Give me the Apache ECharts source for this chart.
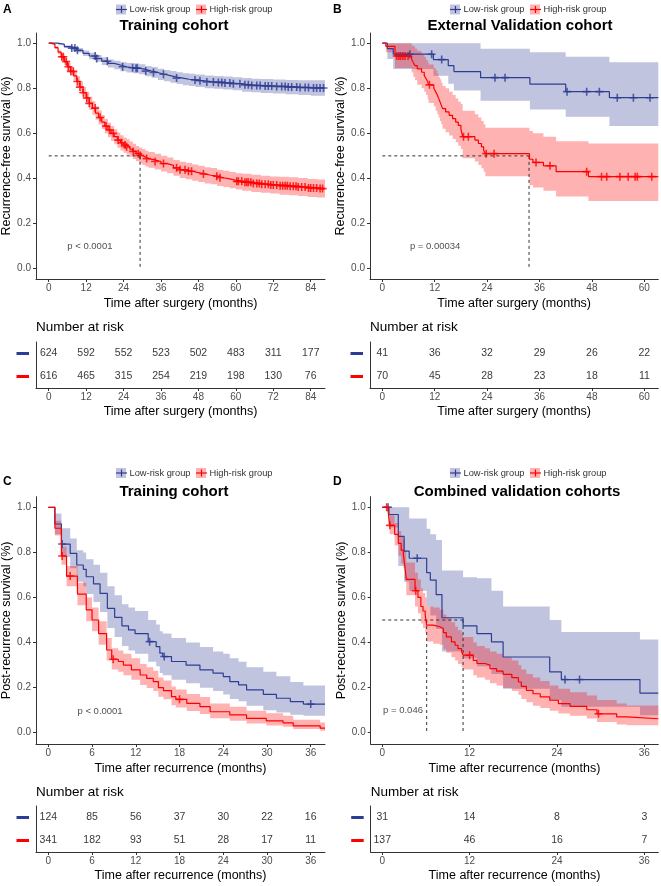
<!DOCTYPE html>
<html><head><meta charset="utf-8">
<script src="https://cdn.jsdelivr.net/npm/echarts@6/dist/echarts.min.js"></script>
<style>html,body{margin:0;padding:0;background:#fff}#c{width:661px;height:886px}</style>
</head><body><div id="c"></div>
<script>
// ---------------- DATA ----------------
const groupLabels = ['Low-risk group', 'High-risk group'];
const titles = ['Training cohort', 'External Validation cohort', 'Training cohort', 'Combined validation cohorts'];
const panelLetters = ['A', 'B', 'C', 'D'];
const xNames = ['Time after surgery (months)', 'Time after surgery (months)', 'Time after recurrence (months)', 'Time after recurrence (months)'];
const yNames = ['Recurrence-free survival (%)', 'Recurrence-free survival (%)', 'Post-recurrence survival (%)', 'Post-recurrence survival (%)'];
const pTexts = ['p < 0.0001', 'p = 0.00034', 'p < 0.0001', 'p = 0.046'];
const yTicks = [0, 0.2, 0.4, 0.6, 0.8, 1.0];

// Panel A
const A_ticks = [0, 12, 24, 36, 48, 60, 72, 84];
const A_low_t = [0,3,5,7,9,11,13,15,17,19,21,23,25,27,29,31,33,35,37,39,41,43,45,47,50,53,56,59,62,65,68,72,76,80,84,88.6];
const A_low_s = [1,0.995,0.985,0.978,0.968,0.955,0.943,0.932,0.92,0.91,0.903,0.895,0.891,0.889,0.884,0.876,0.87,0.862,0.856,0.85,0.845,0.84,0.837,0.833,0.828,0.826,0.823,0.82,0.815,0.812,0.81,0.808,0.805,0.803,0.801,0.801];
const A_low_lo = [1,0.991,0.979,0.970,0.958,0.943,0.929,0.917,0.903,0.892,0.884,0.875,0.870,0.867,0.862,0.853,0.846,0.837,0.831,0.824,0.819,0.813,0.810,0.805,0.800,0.798,0.794,0.791,0.785,0.782,0.779,0.777,0.773,0.770,0.767,0.767];
const A_low_hi = [1,0.999,0.991,0.986,0.978,0.967,0.957,0.947,0.937,0.928,0.922,0.915,0.912,0.911,0.906,0.899,0.894,0.887,0.881,0.876,0.871,0.867,0.864,0.861,0.856,0.854,0.852,0.849,0.845,0.842,0.841,0.839,0.837,0.836,0.835,0.835];
const A_low_cens = [7.4,8.4,9.2,14.9,15.4,18.8,23.7,26.9,28,28.4,31.1,33.6,36.8,41,46.9,48.5,50.7,52.8,54.4,55.5,56.5,58.1,59.2,61.3,62.9,64,65.1,66.7,67.8,69.4,70.4,71.5,73.1,74.7,75.8,76.8,77.9,79.5,80.6,82.2,83.3,84.9,85.9,87,88.1];
const A_high_t = [0,1,2,3,4,5,6,7,8,9,10,11,12,13,14,15,16,17,18,19,20,21,22,23,24,25,26,27,28,29,30,31,32,34,36,38,40,42,44,46,48,50,52,54,56,58,60,62,65,68,71,74,77,80,83,86,88.6];
const A_high_s = [1,0.995,0.98,0.96,0.94,0.918,0.895,0.875,0.855,0.83,0.805,0.78,0.757,0.733,0.712,0.69,0.67,0.65,0.632,0.615,0.6,0.585,0.57,0.558,0.548,0.54,0.53,0.52,0.51,0.502,0.495,0.488,0.482,0.475,0.466,0.458,0.447,0.438,0.432,0.426,0.42,0.414,0.41,0.403,0.398,0.392,0.387,0.383,0.378,0.374,0.371,0.368,0.365,0.362,0.358,0.355,0.355];
const A_high_lo = [1,0.992,0.974,0.951,0.928,0.903,0.878,0.856,0.834,0.807,0.780,0.753,0.729,0.704,0.682,0.660,0.639,0.619,0.600,0.583,0.567,0.552,0.536,0.524,0.514,0.506,0.496,0.486,0.476,0.467,0.460,0.453,0.447,0.440,0.431,0.423,0.412,0.402,0.396,0.390,0.384,0.378,0.374,0.367,0.362,0.356,0.351,0.345,0.340,0.336,0.333,0.328,0.325,0.322,0.318,0.315,0.315];
const A_high_hi = [1,0.998,0.986,0.969,0.952,0.933,0.912,0.894,0.876,0.853,0.830,0.807,0.785,0.762,0.742,0.720,0.701,0.681,0.664,0.647,0.633,0.618,0.604,0.592,0.582,0.574,0.564,0.554,0.544,0.537,0.530,0.523,0.517,0.510,0.501,0.493,0.482,0.474,0.468,0.462,0.456,0.450,0.446,0.439,0.434,0.428,0.423,0.421,0.416,0.412,0.409,0.408,0.405,0.402,0.398,0.395,0.395];
const A_high_cens = [4.2,4.7,5.6,6.3,7.1,7.9,9.2,10,11.1,12.2,13,14.9,16.5,18.4,19.5,20.7,22.3,23.4,24.5,25,27.1,28.7,29.3,31.4,34.1,36.8,41,42.1,43.7,44.8,45.8,49.6,53.9,54.9,60.3,60.8,61.9,62.9,63.5,64,64.8,65.6,66.7,67.5,68.3,69.4,70.4,71.2,72,73.1,74.2,75,75.8,76.5,77.4,78.4,79.3,80,81.1,82.2,83.3,84,84.9,85.9,87,87.8];
const A_medians = [29.3];
const A_risk_low = [624, 592, 552, 523, 502, 483, 311, 177];
const A_risk_high = [616, 465, 315, 254, 219, 198, 130, 76];

// Panel B
const B_ticks = [0, 12, 24, 36, 48, 60];
const B_low_t = [0,1.15,2.5,11.7,15.1,16.4,22.5,33.8,42,52,63.2];
const B_low_s = [1,0.976,0.951,0.927,0.9,0.874,0.847,0.818,0.785,0.758,0.758];
const B_low_lo = [1,0.93,0.885,0.855,0.82,0.79,0.745,0.706,0.674,0.633,0.633];
const B_low_hi = [1,1,1,1,1,1,0.975,0.96,0.94,0.915,0.915];
const B_low_cens = [6.3,11.3,13.6,25.8,28.1,42.3,46.8,49.7,53.8,57.5,61.3];
const B_high_t = [0,0.8,2.9,6.7,7.1,7.5,8.0,9.0,9.6,10.0,10.4,10.6,11.8,12.2,12.6,12.9,13.2,13.5,13.8,14.5,15.3,16.1,16.8,17.4,18.0,18.4,21.2,22.0,22.7,23.2,23.6,33.7,34.5,36.9,39.8,47.2,63.2];
const B_high_s = [1,0.986,0.943,0.929,0.914,0.9,0.886,0.871,0.857,0.843,0.829,0.815,0.8,0.785,0.77,0.755,0.74,0.725,0.71,0.695,0.68,0.665,0.65,0.635,0.62,0.585,0.57,0.555,0.54,0.525,0.51,0.485,0.471,0.456,0.43,0.408,0.408];
const B_high_lo = [1,0.96,0.89,0.87,0.85,0.835,0.815,0.8,0.785,0.77,0.75,0.735,0.72,0.7,0.685,0.67,0.655,0.64,0.62,0.605,0.59,0.575,0.56,0.545,0.53,0.49,0.475,0.46,0.445,0.43,0.41,0.37,0.36,0.345,0.32,0.3,0.3];
const B_high_hi = [1,1,1,0.99,0.985,0.975,0.965,0.95,0.94,0.925,0.915,0.905,0.89,0.88,0.865,0.85,0.84,0.825,0.81,0.8,0.785,0.77,0.755,0.74,0.73,0.7,0.685,0.67,0.655,0.64,0.625,0.61,0.6,0.585,0.565,0.555,0.555];
const B_high_cens = [3.3,3.8,4.2,4.7,5.2,5.9,10.8,18.6,19.7,23.8,25.6,35.2,38.4,46.8,50.2,51.4,54.4,56.3,57.9,58.4,61.7];
const B_medians = [33.6];
const B_risk_low = [41, 36, 32, 29, 26, 22];
const B_risk_high = [70, 45, 28, 23, 18, 11];

// Panel C
const C_ticks = [0, 6, 12, 18, 24, 30, 36];
const C_low_t = [0,0.9,1.8,3.0,3.9,4.8,5.2,6.2,7.1,8.1,9.1,10.1,11.0,11.9,13.7,14.8,15.3,15.7,16.9,18.9,20.8,22.6,24.0,24.9,26.1,27.2,29.5,31.3,33.2,35.0,37.96];
const C_low_s = [1,0.926,0.837,0.796,0.744,0.725,0.692,0.66,0.618,0.552,0.512,0.474,0.456,0.44,0.404,0.382,0.353,0.338,0.316,0.3,0.279,0.264,0.249,0.227,0.212,0.19,0.17,0.153,0.138,0.127,0.127];
const C_low_lo = [1,0.88,0.78,0.73,0.67,0.65,0.615,0.58,0.535,0.465,0.425,0.385,0.365,0.35,0.315,0.295,0.265,0.255,0.235,0.22,0.2,0.185,0.17,0.15,0.14,0.12,0.1,0.09,0.08,0.075,0.075];
const C_low_hi = [1,0.973,0.907,0.862,0.81,0.8,0.77,0.745,0.71,0.65,0.61,0.57,0.555,0.54,0.5,0.48,0.45,0.44,0.42,0.4,0.38,0.36,0.35,0.33,0.315,0.29,0.27,0.25,0.225,0.21,0.21];
const C_low_cens = [1.9, 13.9, 15.9, 36.0];
const C_high_t = [0,0.9,1.8,2.5,4.0,5.2,6.0,6.9,8.0,8.7,9.6,10.3,11.4,12.6,13.5,14.4,15.1,15.8,16.9,17.5,19.0,20.8,22.2,24.9,27.2,29.9,32.2,33.6,37.3,37.96];
const C_high_s = [1,0.907,0.784,0.695,0.615,0.545,0.5,0.44,0.367,0.326,0.316,0.3,0.279,0.256,0.241,0.227,0.2,0.187,0.16,0.148,0.13,0.116,0.093,0.079,0.064,0.053,0.044,0.03,0.02,0.02];
const C_high_lo = [1,0.875,0.745,0.65,0.565,0.495,0.45,0.39,0.32,0.28,0.27,0.255,0.235,0.212,0.198,0.185,0.16,0.148,0.122,0.112,0.096,0.083,0.064,0.053,0.041,0.032,0.026,0.016,0.009,0.009];
const C_high_hi = [1,0.94,0.825,0.74,0.665,0.6,0.555,0.495,0.42,0.375,0.365,0.35,0.33,0.305,0.29,0.275,0.245,0.232,0.205,0.192,0.172,0.158,0.13,0.115,0.098,0.086,0.075,0.058,0.045,0.045];
const C_high_cens = [1.9, 3.0, 8.9, 18.0];
const C_medians = [];
const C_risk_low = [124, 85, 56, 37, 30, 22, 16];
const C_risk_high = [341, 182, 93, 51, 28, 17, 11];

// Panel D
const D_ticks = [0, 12, 24, 36];
const D_low_t = [0,0.9,2.2,3.0,3.7,6.1,6.6,7.4,8.2,11.1,13.0,15.0,16.6,23.0,24.6,35.4,37.92];
const D_low_s = [1,0.968,0.871,0.806,0.774,0.71,0.677,0.613,0.51,0.474,0.44,0.403,0.336,0.27,0.236,0.176,0.176];
const D_low_lo = [1,0.91,0.74,0.67,0.63,0.56,0.52,0.46,0.36,0.33,0.295,0.26,0.195,0.145,0.115,0.077,0.077];
const D_low_hi = [1,1,1,1,0.95,0.905,0.88,0.855,0.72,0.69,0.685,0.63,0.56,0.5,0.447,0.413,0.413];
const D_low_cens = [0.8, 4.8, 25.1, 27.1];
const D_high_t = [0,0.8,1.0,1.7,2.2,2.6,2.9,3.1,3.3,4.5,4.9,5.3,5.6,5.9,6.1,7.0,7.9,8.4,8.8,9.5,10.0,10.4,10.9,11.1,12.5,13.0,14.1,14.8,15.7,16.6,17.8,18.7,19.1,19.8,20.7,21.7,23.0,24.2,25.8,28.1,29.5,32.2,33.6,37.92];
const D_high_s = [1,0.985,0.92,0.88,0.84,0.81,0.79,0.74,0.68,0.63,0.6,0.56,0.54,0.52,0.477,0.47,0.462,0.444,0.425,0.403,0.388,0.373,0.359,0.344,0.321,0.307,0.3,0.284,0.273,0.259,0.244,0.225,0.206,0.188,0.173,0.159,0.144,0.129,0.117,0.102,0.084,0.07,0.062,0.062];
const D_high_lo = [1,0.965,0.88,0.83,0.785,0.75,0.73,0.675,0.61,0.56,0.53,0.485,0.465,0.445,0.405,0.395,0.39,0.37,0.355,0.335,0.32,0.305,0.29,0.28,0.255,0.245,0.235,0.22,0.21,0.198,0.185,0.168,0.15,0.135,0.12,0.11,0.098,0.085,0.075,0.063,0.048,0.037,0.033,0.033];
const D_high_hi = [1,1,0.965,0.93,0.895,0.87,0.855,0.81,0.755,0.71,0.68,0.64,0.62,0.6,0.56,0.555,0.545,0.525,0.51,0.49,0.47,0.455,0.44,0.425,0.4,0.385,0.375,0.36,0.35,0.335,0.32,0.3,0.28,0.26,0.245,0.23,0.21,0.195,0.18,0.165,0.145,0.13,0.121,0.121];
const D_high_cens = [0.6, 1.05, 4.6, 12.0, 29.7];
const D_medians = [6.1, 11.1];
const D_risk_low = [31, 14, 8, 3];
const D_risk_high = [137, 46, 16, 7];

// ---------------- STYLE / LAYOUT ----------------
const FONT = '"Liberation Sans", Arial, sans-serif';
const BLUE = '#2E3D94', RED = '#FF0000';
const BLUE_BAND = 'rgba(46,61,148,0.3)', RED_BAND = 'rgba(255,0,0,0.3)';
const AXIS_C = '#333333', TICKLAB_C = '#4D4D4D';
const PLUS = 'path://M4,0h2v4h4v2h-4v4h-2v-4h-4v-2h4z';

const panels = [
  { grid:{left:36, top:33, width:289, height:246}, tbl:{left:36, top:342, width:289, height:46},
    xr:[-4.07, 88.58], yr:[-0.046, 1.045], ticks:A_ticks, pPos:[13.2, 0.1], titleX:174, titleY:26, letterX:3, letterY:10,
    legX:116, legY:9.5, nrY:327,
    low:[A_low_t,A_low_s,A_low_lo,A_low_hi,A_low_cens], high:[A_high_t,A_high_s,A_high_lo,A_high_hi,A_high_cens],
    med:A_medians, riskLow:A_risk_low, riskHigh:A_risk_high },
  { grid:{left:370, top:33, width:288.3, height:246}, tbl:{left:370, top:342, width:288.3, height:46},
    xr:[-2.82, 63.2], yr:[-0.046, 1.045], ticks:B_ticks, pPos:[12.1, 0.1], titleX:520, titleY:26, letterX:333, letterY:10,
    legX:450, legY:9.5, nrY:327,
    low:[B_low_t,B_low_s,B_low_lo,B_low_hi,B_low_cens], high:[B_high_t,B_high_s,B_high_lo,B_high_hi,B_high_cens],
    med:B_medians, riskLow:B_risk_low, riskHigh:B_risk_high },
  { grid:{left:36, top:496.7, width:289, height:247.3}, tbl:{left:36, top:806, width:289, height:46},
    xr:[-1.69, 37.96], yr:[-0.05, 1.047], ticks:C_ticks, pPos:[7.1, 0.096], titleX:174, titleY:491.5, letterX:3, letterY:482,
    legX:116, legY:473, nrY:792,
    low:[C_low_t,C_low_s,C_low_lo,C_low_hi,C_low_cens], high:[C_high_t,C_high_s,C_high_lo,C_high_hi,C_high_cens],
    med:C_medians, riskLow:C_risk_low, riskHigh:C_risk_high },
  { grid:{left:370.7, top:496.7, width:287.6, height:247.3}, tbl:{left:370.7, top:806, width:287.6, height:46},
    xr:[-1.59, 37.92], yr:[-0.05, 1.047], ticks:D_ticks, pPos:[2.85, 0.1], titleX:517, titleY:491.5, letterX:333, letterY:482,
    legX:450, legY:473, nrY:792,
    low:[D_low_t,D_low_s,D_low_lo,D_low_hi,D_low_cens], high:[D_high_t,D_high_s,D_high_lo,D_high_hi,D_high_cens],
    med:D_medians, riskLow:D_risk_low, riskHigh:D_risk_high }
];

function lookup(t, s, c) { let v = s[0]; for (let i = 0; i < t.length; i++) { if (t[i] <= c) v = s[i]; else break; } return v; }

// step-shaped confidence band drawn through the axis scales (api.coord)
function bandRenderer(t, lo, hi, fill) {
  return function (params, api) {
    const up = [], dn = [];
    for (let j = 0; j < t.length; j++) {
      up.push(api.coord([t[j], hi[j]]));
      if (j + 1 < t.length) up.push(api.coord([t[j + 1], hi[j]]));
    }
    for (let j = t.length - 1; j >= 0; j--) {
      if (j + 1 < t.length) dn.push(api.coord([t[j + 1], lo[j]]));
      dn.push(api.coord([t[j], lo[j]]));
    }
    return {type:'polygon', shape:{points:up.concat(dn)}, style:{fill:fill}, silent:true};
  };
}

const grids = [], xAxes = [], yAxes = [], series = [], graphics = [];

function axisCommon() {
  return { axisLine:{show:true, onZero:false, lineStyle:{color:AXIS_C, width:1}},
           splitLine:{show:false} };
}

panels.forEach((p, i) => {
  const gm = 2*i, gt = 2*i + 1;
  grids.push(Object.assign({containLabel:false, outerBoundsMode:'none'}, p.grid));
  grids.push(Object.assign({containLabel:false, outerBoundsMode:'none'}, p.tbl));

  xAxes.push(Object.assign(axisCommon(), { gridIndex:gm, type:'value', min:p.xr[0], max:p.xr[1],
    axisTick:{show:true, length:3, customValues:p.ticks, lineStyle:{color:AXIS_C}},
    axisLabel:{customValues:p.ticks, fontSize:10, color:TICKLAB_C, margin:4.5, fontFamily:FONT},
    name:xNames[i], nameLocation:'middle', nameGap:18, nameTextStyle:{fontSize:12.5, color:'#000', fontFamily:FONT} }));
  yAxes.push(Object.assign(axisCommon(), { gridIndex:gm, type:'value', min:p.yr[0], max:p.yr[1],
    axisTick:{show:true, length:3, customValues:yTicks, lineStyle:{color:AXIS_C}},
    axisLabel:{customValues:yTicks, fontSize:10, color:TICKLAB_C, margin:5, fontFamily:FONT, formatter:v => v.toFixed(1)},
    name:yNames[i], nameLocation:'middle', nameGap:21, nameTextStyle:{fontSize:12.5, color:'#000', fontFamily:FONT} }));
  xAxes.push(Object.assign(axisCommon(), { gridIndex:gt, type:'value', min:p.xr[0], max:p.xr[1],
    axisTick:{show:true, length:3, customValues:p.ticks, lineStyle:{color:AXIS_C}},
    axisLabel:{customValues:p.ticks, fontSize:10, color:TICKLAB_C, margin:4.5, fontFamily:FONT},
    name:xNames[i], nameLocation:'middle', nameGap:17, nameTextStyle:{fontSize:12.5, color:'#000', fontFamily:FONT} }));
  yAxes.push(Object.assign(axisCommon(), { gridIndex:gt, type:'category', data:['High','Low'],
    axisTick:{show:false},
    axisLabel:{margin:7, formatter:v => v === 'Low' ? '{lo| }' : '{hi| }',
      rich:{ lo:{backgroundColor:BLUE, width:12.5, height:3, lineHeight:3, fontSize:1},
             hi:{backgroundColor:RED, width:12.5, height:3, lineHeight:3, fontSize:1} } } }));

  const base = {xAxisIndex:gm, yAxisIndex:gm, silent:true};
  const groups = [[p.low, BLUE, BLUE_BAND], [p.high, RED, RED_BAND]];
  // bands
  groups.forEach(([g, col, band]) => {
    const [t, s, lo, hi] = g;
    series.push(Object.assign({}, base, {type:'custom', renderItem:bandRenderer(t, lo, hi, band),
      data:[[t[0], lo[0]]], clip:true}));
  });
  // median lines
  if (p.med.length) {
    const mx = Math.max.apply(null, p.med);
    const dash = {color:'#333', width:1, type:[3, 3]};
    series.push(Object.assign({}, base, {type:'line', symbol:'none', data:[[0, 0.5], [mx, 0.5]], lineStyle:dash}));
    p.med.forEach(m => series.push(Object.assign({}, base, {type:'line', symbol:'none', data:[[m, 0.5], [m, 0]], lineStyle:dash})));
  }
  // curves
  groups.forEach(([g, col]) => {
    const [t, s] = g;
    series.push(Object.assign({}, base, {type:'line', step:'end', symbol:'none',
      data:t.map((x, j) => [x, s[j]]), lineStyle:{color:col, width:1.2}, itemStyle:{color:col}}));
  });
  // censor marks
  groups.forEach(([g, col]) => {
    const [t, s, , , cens] = g;
    series.push(Object.assign({}, base, {type:'scatter', symbol:PLUS, symbolSize:8,
      data:cens.map(c => [c, lookup(t, s, c)]), itemStyle:{color:col}}));
  });
  // p value
  series.push(Object.assign({}, base, {type:'scatter', symbolSize:1, itemStyle:{color:'transparent'},
    data:[p.pPos], label:{show:true, position:'inside', formatter:pTexts[i], fontSize:9.5, color:'#222', fontFamily:FONT}}));
  // risk table
  [[p.riskLow, 'Low'], [p.riskHigh, 'High']].forEach(([arr, cat]) => {
    series.push({type:'scatter', xAxisIndex:gt, yAxisIndex:gt, silent:true, symbolSize:1, itemStyle:{color:'transparent'},
      data:arr.map((n, j) => [p.ticks[j], cat, n]),
      label:{show:true, position:'inside', formatter:q => String(q.value[2]), fontSize:10.5, color:'#000', fontFamily:FONT}});
  });

  graphics.push({type:'text', x:p.letterX, y:p.letterY, style:{text:panelLetters[i], font:'bold 12px ' + FONT, fill:'#000', textVerticalAlign:'middle', verticalAlign:'middle'}});
  graphics.push({type:'text', x:p.titleX, y:p.titleY, style:{text:titles[i], font:'bold 15px ' + FONT, fill:'#000', textAlign:'center', align:'center', textVerticalAlign:'middle', verticalAlign:'middle'}});
  graphics.push({type:'text', x:p.grid.left, y:p.nrY, style:{text:'Number at risk', font:'13.5px ' + FONT, fill:'#000', textVerticalAlign:'middle', verticalAlign:'middle'}});
  const legOff = [0, 80];
  [[BLUE_BAND, BLUE], [RED_BAND, RED]].forEach(([band, col], k) => {
    const x = p.legX + legOff[k], yc = p.legY;
    graphics.push({type:'rect', shape:{x:x, y:yc - 5, width:10, height:10}, style:{fill:band}});
    graphics.push({type:'line', shape:{x1:x, y1:yc, x2:x + 11, y2:yc}, style:{stroke:col, lineWidth:1.2}});
    graphics.push({type:'line', shape:{x1:x + 5.5, y1:yc - 3.5, x2:x + 5.5, y2:yc + 3.5}, style:{stroke:col, lineWidth:1.2}});
    graphics.push({type:'text', x:x + 13.5, y:yc, style:{text:groupLabels[k], font:'9.3px ' + FONT, fill:'#333', textVerticalAlign:'middle', verticalAlign:'middle'}});
  });
});

const chart = echarts.init(document.getElementById('c'), null, {renderer:'canvas'});
chart.setOption({
  animation:false,
  backgroundColor:'#ffffff',
  textStyle:{fontFamily:FONT},
  grid:grids, xAxis:xAxes, yAxis:yAxes, series:series,
  graphic:{elements:graphics}
});
</script></body></html>
